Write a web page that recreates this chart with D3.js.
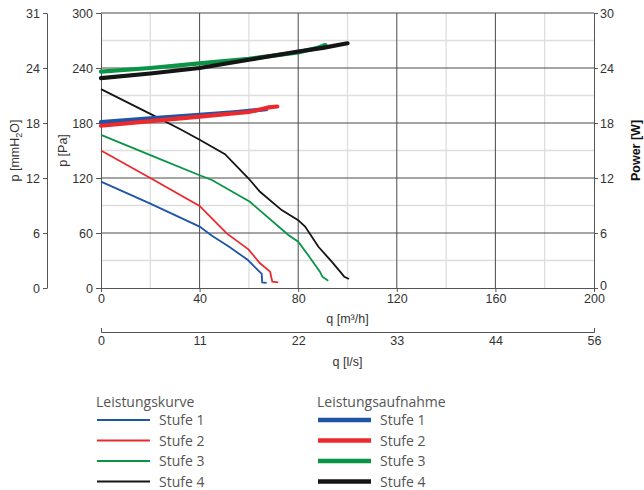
<!DOCTYPE html>
<html>
<head>
<meta charset="utf-8">
<script src="https://cdn.jsdelivr.net/npm/d3@7"></script>
<style>
  body { margin: 0; background: #fff; }
  svg text { font-family: "Liberation Sans", Arial, sans-serif; }
  .legend text { font-family: "Open Sans", Lato, sans-serif; fill: #555; font-size: 14px; }
</style>
</head>
<body>
<svg id="chart" width="644" height="490"></svg>
<script>
// flow q [m3/h] vs pressure p [Pa]
const curveStufe1 = [[0,116],[20,92],[40,67],[45,57],[52,45],[59.6,30.5],[65.2,15.3],[65.4,6],[67.2,5.5]];
const curveStufe2 = [[0,150],[20,120],[40,89.5],[45,76],[51,59.6],[59.8,42.2],[64.5,27],[68.6,17.8],[69.5,6.9],[71.9,6.2]];
const curveStufe3 = [[0,167],[20,145],[40,123],[45,117.8],[60.4,94],[76,57.8],[80,50.5],[84,36],[88.8,17.8],[89.8,12.4],[92.2,8]];
const curveStufe4 = [[0,217],[20,190],[32,173.5],[40.2,161.5],[50.3,146],[59.8,119.7],[64.5,105],[73.3,85],[80,74],[82.8,67],[88.2,45],[93.6,28.7],[97.6,16],[98.7,12.3],[100.6,9.8]];

// flow q [m3/h] vs power [W]
const powerStufe1 = [[0,18.1],[20,18.5],[40,18.9],[55,19.2],[67,19.5]];
const powerStufe2 = [[0,17.7],[20,18.2],[40,18.7],[60,19.2],[65,19.5],[68,19.7],[71.5,19.8]];
const powerStufe3 = [[0,23.6],[20,24.0],[40,24.5],[60,25.0],[80,25.7],[88,26.2],[91,26.5]];
const powerStufe4 = [[0,22.9],[20,23.4],[40,24.0],[60,24.9],[80,25.8],[90,26.2],[100,26.7]];

const stufen = ['Stufe 1', 'Stufe 2', 'Stufe 3', 'Stufe 4'];
const colors = ['#1f55a6', '#ec2a2d', '#0a9446', '#151515'];

const qTicks = [0, 40, 80, 120, 160, 200];
const lsLabels = ['0', '11', '22', '33', '44', '56'];
const paTicks = [0, 60, 120, 180, 240, 300];
const mmLabels = ['0', '6', '12', '18', '24', '31'];
const wTicks = [0, 6, 12, 18, 24, 30];

const svg = d3.select('#chart');
const plotLeft = 101, plotRight = 594, plotTop = 13, plotBottom = 288;

const x = d3.scaleLinear().domain([0, 200]).range([plotLeft, plotRight]);
const y = d3.scaleLinear().domain([0, 300]).range([plotBottom, plotTop]);
const yW = d3.scaleLinear().domain([0, 30]).range([plotBottom, plotTop]);

// minor grid
const grid = svg.append('g');
grid.selectAll('line.vminor')
  .data(d3.range(20, 200, 40))
  .enter().append('line')
  .attr('x1', d => x(d)).attr('x2', d => x(d))
  .attr('y1', plotTop).attr('y2', plotBottom)
  .attr('stroke', '#dedede').attr('stroke-width', 1.3);
grid.selectAll('line.hminor')
  .data(d3.range(30, 300, 60))
  .enter().append('line')
  .attr('x1', plotLeft).attr('x2', plotRight)
  .attr('y1', d => y(d)).attr('y2', d => y(d))
  .attr('stroke', '#dedede').attr('stroke-width', 1.3);
// major grid
grid.selectAll('line.vmajor')
  .data(qTicks.slice(1, -1))
  .enter().append('line')
  .attr('x1', d => x(d)).attr('x2', d => x(d))
  .attr('y1', plotTop).attr('y2', plotBottom)
  .attr('stroke', '#4a4a4a').attr('stroke-width', 1);
grid.selectAll('line.hmajor')
  .data(paTicks.slice(1))
  .enter().append('line')
  .attr('x1', plotLeft).attr('x2', plotRight)
  .attr('y1', d => y(d)).attr('y2', d => y(d))
  .attr('stroke', '#4a4a4a').attr('stroke-width', 1);

function styleAxis(g) {
  g.selectAll('path, line').attr('stroke', '#555');
  g.selectAll('text').attr('fill', '#333').style('font-size', '12.5px');
}

// bottom m3/h axis
svg.append('g')
  .attr('transform', `translate(0,${plotBottom})`)
  .call(d3.axisBottom(x).tickValues(qTicks).tickSize(4).tickSizeOuter(0).tickPadding(2))
  .call(styleAxis);

// second bottom l/s axis
svg.append('g')
  .attr('transform', 'translate(0,332)')
  .call(d3.axisBottom(x).tickValues(qTicks).tickFormat((d, i) => lsLabels[i])
    .tickSizeInner(0).tickSizeOuter(-4).tickPadding(4))
  .call(styleAxis);

// Pa axis
svg.append('g')
  .attr('transform', `translate(${plotLeft},0)`)
  .call(d3.axisLeft(y).tickValues(paTicks).tickSize(5).tickSizeOuter(0).tickPadding(3))
  .call(styleAxis);

// mmH2O axis
svg.append('g')
  .attr('transform', 'translate(47,0)')
  .call(d3.axisLeft(y).tickValues(paTicks).tickFormat((d, i) => mmLabels[i])
    .tickSize(4).tickSizeOuter(0).tickPadding(3))
  .call(styleAxis);

// power axis
const powerAxis = svg.append('g')
  .attr('transform', `translate(${plotRight},0)`)
  .call(d3.axisRight(yW).tickValues(wTicks).tickSize(4).tickSizeOuter(0).tickPadding(2))
  .call(styleAxis);
// lift the right "0" a little so it clears the "200" below it
powerAxis.selectAll('.tick text').filter(d => d === 0).attr('dy', '0.1em');

// axis titles
const midX = (plotLeft + plotRight) / 2, midY = (plotTop + plotBottom) / 2;
svg.append('text').attr('x', midX).attr('y', 323)
  .attr('text-anchor', 'middle').style('font-size', '12.5px').attr('fill', '#333')
  .text('q [m³/h]');
svg.append('text').attr('x', midX).attr('y', 366)
  .attr('text-anchor', 'middle').style('font-size', '12.5px').attr('fill', '#333')
  .text('q [l/s]');
svg.append('text')
  .attr('transform', `translate(67,${midY}) rotate(-90)`)
  .attr('text-anchor', 'middle').style('font-size', '12.5px').attr('fill', '#333')
  .text('p [Pa]');
const mmTitle = svg.append('text')
  .attr('transform', `translate(19,${midY}) rotate(-90)`)
  .attr('text-anchor', 'middle').style('font-size', '12.5px').attr('fill', '#333');
mmTitle.append('tspan').text('p [mmH');
mmTitle.append('tspan').attr('dy', 3).style('font-size', '9px').text('2');
mmTitle.append('tspan').attr('dy', -3).text('O]');
svg.append('text')
  .attr('transform', `translate(640,${midY}) rotate(-90)`)
  .attr('text-anchor', 'middle').style('font-size', '12.5px').style('font-weight', 'bold')
  .attr('fill', '#111')
  .text('Power [W]');

// curves
const linePa = d3.line().x(d => x(d[0])).y(d => y(d[1]));
const lineW = d3.line().x(d => x(d[0])).y(d => yW(d[1]));

const curves = [curveStufe1, curveStufe2, curveStufe3, curveStufe4];
const powers = [powerStufe1, powerStufe2, powerStufe3, powerStufe4];

svg.append('g').selectAll('path')
  .data(curves)
  .enter().append('path')
  .attr('d', linePa)
  .attr('fill', 'none')
  .attr('stroke', (d, i) => colors[i])
  .attr('stroke-width', 1.8);

svg.append('g').selectAll('path')
  .data(powers)
  .enter().append('path')
  .attr('d', lineW)
  .attr('fill', 'none')
  .attr('stroke', (d, i) => colors[i])
  .attr('stroke-width', 4.2)
  .attr('stroke-linecap', 'round');

// legend
const legend = svg.append('g').attr('class', 'legend');
const cols = [
  { title: 'Leistungskurve', x: 96, width: 2.2 },
  { title: 'Leistungsaufnahme', x: 317, width: 4.5 }
];
cols.forEach(c => {
  legend.append('text').attr('x', c.x).attr('y', 407).text(c.title);
  stufen.forEach((s, i) => {
    const ly = 420 + i * 20.5;
    legend.append('line')
      .attr('x1', c.x + 1).attr('x2', c.x + 54)
      .attr('y1', ly).attr('y2', ly)
      .attr('stroke', colors[i]).attr('stroke-width', c.width);
    legend.append('text').attr('x', c.x + 63).attr('y', ly + 5).text(s);
  });
});
</script>
</body>
</html>
